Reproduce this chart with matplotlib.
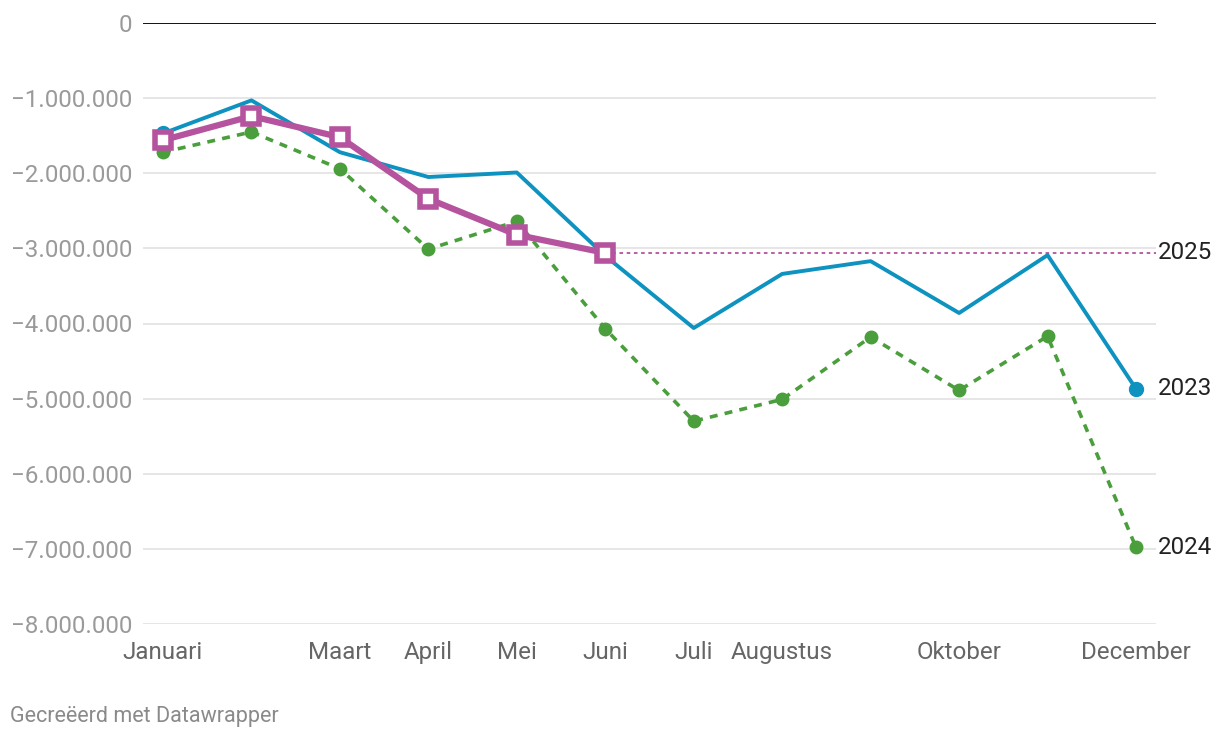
import matplotlib

matplotlib.use("Agg")

import matplotlib.pyplot as plt
from matplotlib.ticker import FuncFormatter

plt.rcParams["font.family"] = ["Roboto", "DejaVu Sans"]

months = ["Januari", "Februari", "Maart", "April", "Mei", "Juni", "Juli",
          "Augustus", "September", "Oktober", "November", "December"]
shown_months = ["Januari", "Maart", "April", "Mei", "Juni", "Juli",
                "Augustus", "Oktober", "December"]

vals_2023 = [-1.47e6, -1.03e6, -1.72e6, -2.05e6, -1.99e6, -3.10e6,
             -4.06e6, -3.34e6, -3.17e6, -3.86e6, -3.09e6, -4.87e6]
vals_2024 = [-1.72e6, -1.45e6, -1.94e6, -3.01e6, -2.64e6, -4.07e6,
             -5.30e6, -5.01e6, -4.18e6, -4.89e6, -4.17e6, -6.98e6]
vals_2025 = [-1.56e6, -1.24e6, -1.52e6, -2.34e6, -2.82e6, -3.06e6]

y_ticks = [0, -1e6, -2e6, -3e6, -4e6, -5e6, -6e6, -7e6, -8e6]

BLUE = "#0e92bf"
GREEN = "#4a9e3c"
PURPLE = "#b5539e"

fig = plt.figure(figsize=(12.2, 7.4), dpi=100)
ax = fig.add_axes([143 / 1220, 1 - 624 / 740, (1156 - 143) / 1220, (624 - 23) / 740])

x = list(range(len(months)))

for t in y_ticks:
    if t == 0:
        ax.axhline(t, color="#111111", lw=1.4, zorder=1)
    else:
        ax.axhline(t, color="#e2e2e2", lw=1.2, zorder=0)

# 2024 dashed green
ax.plot(x, vals_2024, color=GREEN, lw=2.6, ls=(0, (2.2, 2.0)), marker="o",
        markersize=9, markerfacecolor=GREEN, markeredgecolor=GREEN,
        zorder=3, clip_on=False)

# 2023 solid blue, dots at ends
ax.plot(x, vals_2023, color=BLUE, lw=2.8, zorder=4, clip_on=False)
ax.plot([x[0], x[-1]], [vals_2023[0], vals_2023[-1]], ls="none", marker="o",
        markersize=10, color=BLUE, zorder=4, clip_on=False)

# 2025 reference line from last value
x25 = x[:len(vals_2025)]
ax.plot([x25[-1], 11.23], [vals_2025[-1], vals_2025[-1]], color=PURPLE,
        lw=1.3, ls=(0, (2, 2)), zorder=2, clip_on=False)

# 2025 thick purple with squares
ax.plot(x25, vals_2025, color=PURPLE, lw=4.5, marker="s", markersize=12,
        markerfacecolor="white", markeredgecolor=PURPLE, markeredgewidth=4,
        zorder=5, clip_on=False)

for label, val in [("2025", vals_2025[-1]), ("2023", vals_2023[-1]),
                   ("2024", vals_2024[-1])]:
    ax.annotate(label, xy=(1.0, val), xycoords=("axes fraction", "data"),
                xytext=(1, 0), textcoords="offset points", ha="left",
                va="center", fontsize=17.4, color="#222222")

ax.set_xlim(-0.226, 11.226)
ax.set_ylim(-8e6, 0)
ax.set_yticks(y_ticks)
ax.yaxis.set_major_formatter(FuncFormatter(
    lambda v, p: "0" if v == 0 else "\u2212" + f"{abs(int(v)):,}".replace(",", ".")))
ax.tick_params(axis="y", length=0, pad=8, labelsize=17.4, labelcolor="#9a9a9a")

ax.set_xticks([months.index(m) for m in shown_months])
ax.set_xticklabels(shown_months)
ax.tick_params(axis="x", length=0, pad=25, labelsize=17.4, labelcolor="#666666")
for lbl in ax.get_xticklabels():
    lbl.set_verticalalignment("baseline")

for s in ax.spines.values():
    s.set_visible(False)

fig.text(10 / 1220, 1 - 722 / 740, "Gecreëerd met Datawrapper", fontsize=15.5,
         color="#8a8a8a", ha="left", va="baseline")

fig.savefig("out.png", dpi=100)
